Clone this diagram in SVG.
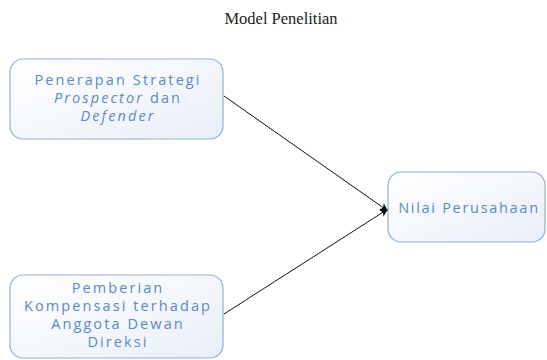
<svg xmlns="http://www.w3.org/2000/svg" width="547" height="360" viewBox="0 0 547 360">
<style>
.box{fill:url(#g);stroke:#8eb1db;stroke-width:1.2}
.t{font-family:"Open Sans","Liberation Sans",sans-serif;font-size:14.5px;fill:#5a8ac6;text-anchor:middle;letter-spacing:2.1px}
.title{font-family:"Liberation Serif",serif;font-size:16.5px;fill:#222;text-anchor:middle}
.c{stroke:#111;stroke-width:1;fill:none;marker-end:url(#a)}
</style>
<defs>
<linearGradient id="g" x1="0" y1="0" x2="1" y2="1">
<stop offset="0" stop-color="#ffffff"/>
<stop offset="1" stop-color="#e9eff8"/>
</linearGradient>
<marker id="a" viewBox="0 0 10 10" refX="10" refY="5" markerWidth="8" markerHeight="8" orient="auto" markerUnits="userSpaceOnUse">
<path d="M0,0 L10,5 L0,10 L2.5,5 z" fill="#111"/>
</marker>
</defs>
<text class="title" x="281" y="24">Model Penelitian</text>
<g id="connectors">
<line class="c" x1="224" y1="96" x2="388" y2="211"/>
<line class="c" x1="224" y1="314" x2="388" y2="209"/>
</g>
<g id="n1">
<rect class="box" x="10" y="59" width="213" height="80" rx="13"/>
<text class="t" x="118" y="85">Penerapan Strategi</text>
<text class="t" x="118" y="103"><tspan font-style="italic">Prospector</tspan> dan</text>
<text class="t" x="118" y="121" font-style="italic">Defender</text>
</g>
<g id="n2">
<rect class="box" x="10" y="275" width="213" height="83" rx="13"/>
<text class="t" x="118" y="293">Pemberian</text>
<text class="t" x="118" y="311">Kompensasi terhadap</text>
<text class="t" x="118" y="329">Anggota Dewan</text>
<text class="t" x="118" y="347">Direksi</text>
</g>
<g id="n3">
<rect class="box" x="388" y="172" width="157" height="70" rx="13"/>
<text class="t" x="469" y="213" style="letter-spacing:1.7px">Nilai Perusahaan</text>
</g>
</svg>
